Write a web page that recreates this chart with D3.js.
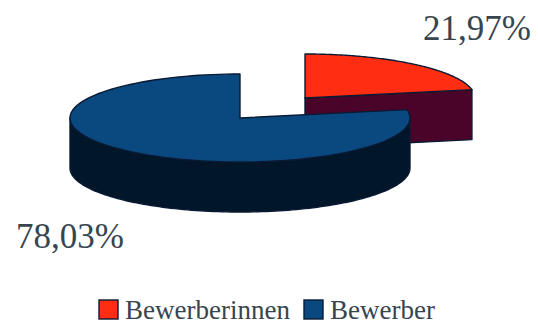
<!DOCTYPE html>
<html>
<head>
<meta charset="utf-8">
<script src="https://cdn.jsdelivr.net/npm/d3@7"></script>
<style>
  html, body { margin: 0; padding: 0; background: #fff; }
  svg { display: block; }
  text { font-family: "Liberation Serif", serif; fill: #36454f; }
</style>
</head>
<body>
<svg id="chart" width="538" height="327"></svg>
<script>
// Share of applications by gender
const categories = ["Bewerberinnen", "Bewerber"];
const shares = [21.97, 78.03];
const shareLabels = ["21,97%", "78,03%"];
const topColors = ["#ff2e12", "#0a4880"];
const sideColors = ["#4a0329", "#011729"];
const outline = "#0b1a33";

const svg = d3.select("#chart");

// Projection of the tilted disc: unit circle to screen, per slice centre
const radiusX = 170, radiusY = 44, depth = 50;
const sliceCentres = [[305, 98], [240, 118]];

const slices = d3.pie().sort(null)(shares);

function projector(centre) {
  const x = d3.scaleLinear().domain([0, 1]).range([centre[0], centre[0] + radiusX]);
  const y = d3.scaleLinear().domain([0, 1]).range([centre[1], centre[1] - radiusY]);
  return (angle, drop = 0) => [x(Math.sin(angle)), y(Math.cos(angle)) + drop];
}

function rimAngles(a0, a1) {
  const steps = 120;
  return d3.range(steps + 1).map(i => a0 + (a1 - a0) * i / steps);
}

const closedLine = d3.line().curve(d3.curveLinearClosed);

function drawSlice(i) {
  const s = slices[i];
  const p = projector(sliceCentres[i]);
  const apex = sliceCentres[i];
  const g = svg.append("g").attr("stroke", outline).attr("stroke-width", 1.4)
    .attr("stroke-linejoin", "round");

  // Walls facing the viewer: the outer rim, and the cut face if it looks forward
  if (i === 0) {
    const end = p(s.endAngle);
    g.append("path")
      .attr("d", closedLine([apex, end, [end[0], end[1] + depth], [apex[0], apex[1] + depth]]))
      .attr("fill", sideColors[i]);
  } else {
    // The rim's silhouette runs from the right extreme round the front to the left extreme
    const angles = rimAngles(Math.PI / 2, Math.PI * 1.5);
    const upper = angles.map(a => p(a));
    const lower = angles.map(a => p(a, depth)).reverse();
    g.append("path")
      .attr("d", closedLine(upper.concat(lower)))
      .attr("fill", sideColors[i]);
  }

  // Top face
  const top = rimAngles(s.startAngle, s.endAngle).map(a => p(a));
  g.append("path")
    .attr("d", closedLine([apex].concat(top)))
    .attr("fill", topColors[i]);
}

drawSlice(0);
drawSlice(1);

// Percentage labels
const labelSpots = [[531, 40, "end"], [16, 248, "start"]];
svg.selectAll("text.value").data(shareLabels).join("text")
  .attr("class", "value")
  .attr("x", (d, i) => labelSpots[i][0])
  .attr("y", (d, i) => labelSpots[i][1])
  .attr("text-anchor", (d, i) => labelSpots[i][2])
  .attr("font-size", 35)
  .text(d => d);

// Legend
const legendX = [99, 304];
const legend = svg.selectAll("g.key").data(categories).join("g")
  .attr("class", "key")
  .attr("transform", (d, i) => `translate(${legendX[i]},300)`);
legend.append("rect")
  .attr("width", 19).attr("height", 19)
  .attr("fill", (d, i) => topColors[i])
  .attr("stroke", outline).attr("stroke-width", 1.4);
legend.append("text")
  .attr("x", 26).attr("y", 19)
  .attr("font-size", 27)
  .text(d => d);
</script>
</body>
</html>
